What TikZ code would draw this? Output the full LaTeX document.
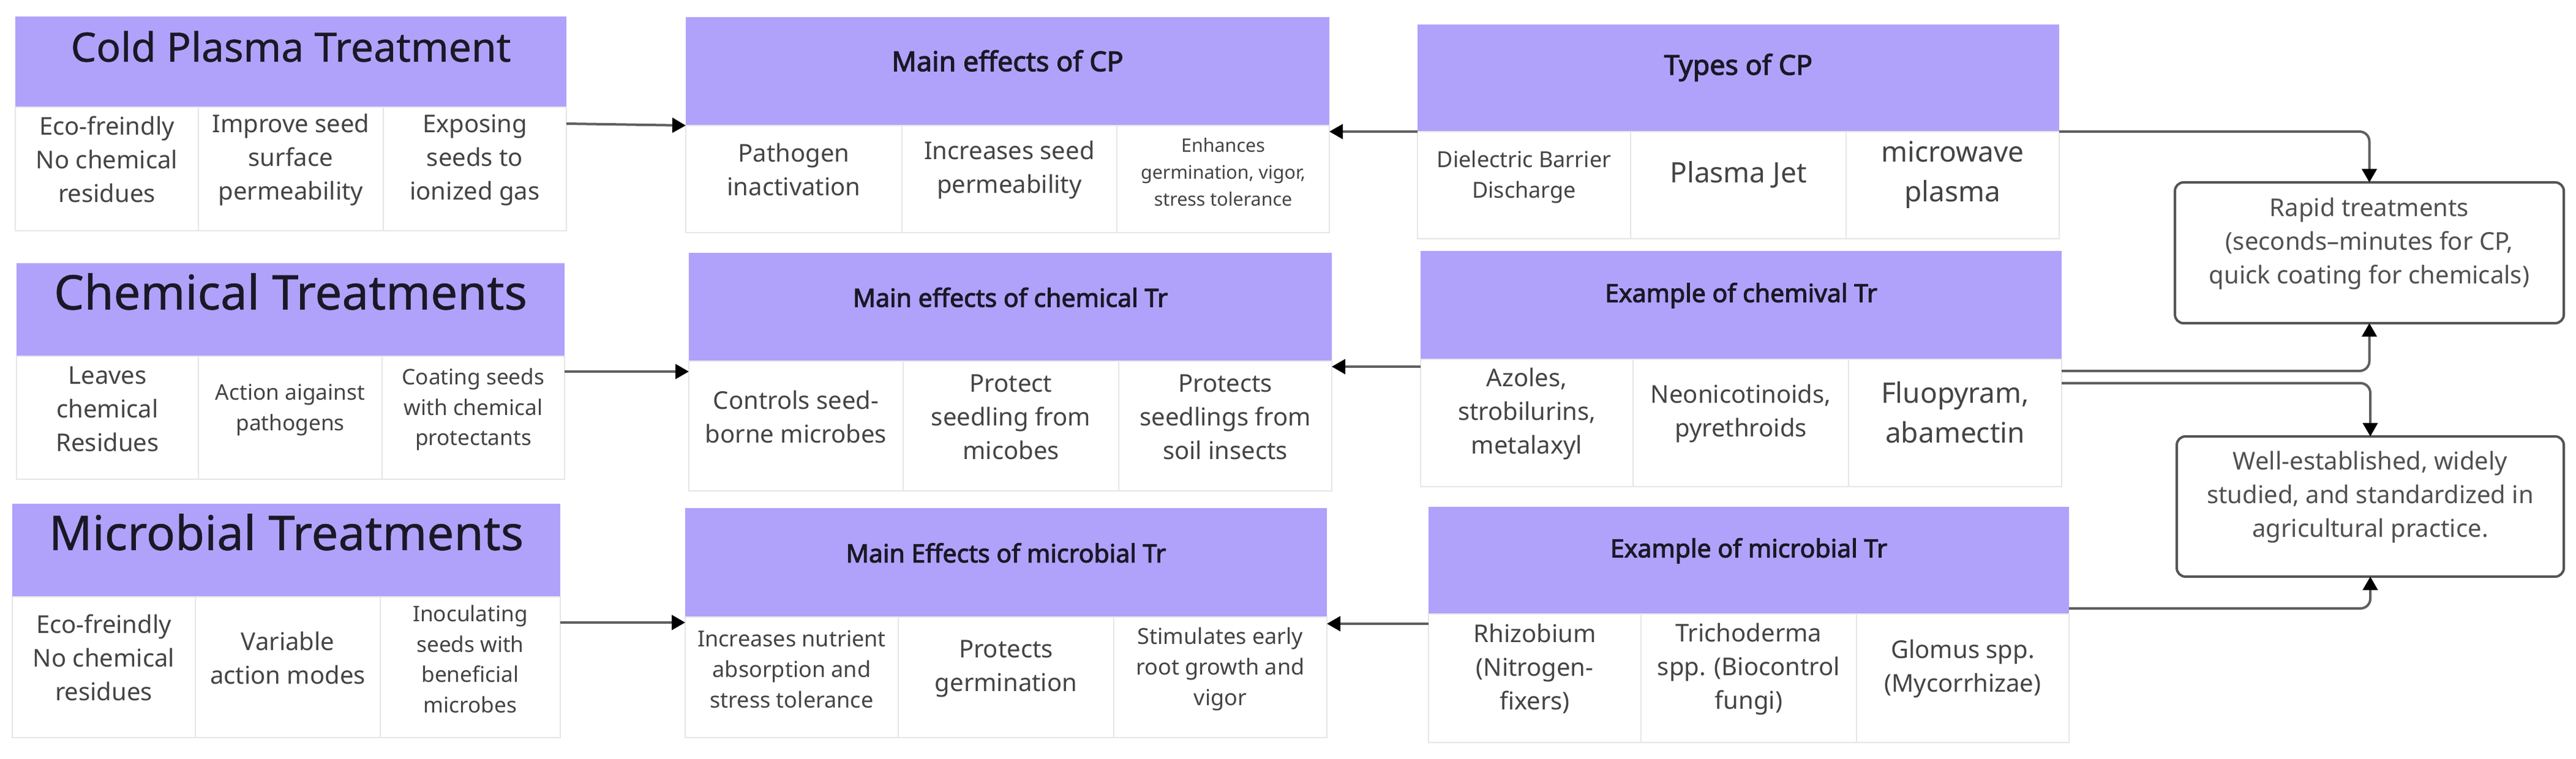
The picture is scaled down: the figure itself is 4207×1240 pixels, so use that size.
\documentclass[tikz,border=0pt]{standalone}
\usepackage{fontspec}
\setmainfont{Noto Sans}
\newfontfamily\tbf{Noto Sans}[FakeBold=2.6]
\newfontfamily\tmed{Noto Sans}[FakeBold=0.6]
\usetikzlibrary{fit,arrows.meta}
\definecolor{hdrc}{RGB}{176,162,251}
\definecolor{titlec}{RGB}{26,24,38}
\definecolor{cellc}{RGB}{68,68,68}
\definecolor{celll}{RGB}{230,230,234}
\definecolor{linec}{RGB}{95,95,95}
\definecolor{boxc}{RGB}{85,85,85}
\definecolor{boxt}{RGB}{80,80,80}
\newcommand\fsz[2]{\fontsize{#1}{#2}\selectfont}
\begin{document}
\begin{tikzpicture}[x=0.25pt,y=-0.25pt,
  hdr/.style={fill=hdrc,draw=none,inner sep=0pt,outer sep=0pt,align=center,text=titlec},
  cell/.style={fill=white,draw=celll,line width=0.5pt,inner sep=0pt,outer sep=0pt,align=center,text=cellc},
  bigt/.style={font=\tmed\fsz{19.5}{24}},
  midt/.style={font=\tmed\fsz{16.5}{20}},
  bt/.style={font=\tbf\fsz{10.25}{14}},
  btl/.style={font=\tbf\fsz{11.2}{15}},
  fa/.style={font=\fsz{10}{13.75}},
  fb/.style={font=\fsz{8.8}{12.4}},
  fc/.style={font=\fsz{9}{12.5}},
  fd/.style={font=\fsz{7.6}{11}},
  fe/.style={font=\fsz{11.5}{16.2}},
  arr/.style={draw=linec,line width=1pt,-{Triangle[length=5.5pt,width=6pt,color=black]}},
  elb/.style={arr,rounded corners=4pt},
  bx/.style={draw=boxc,line width=1pt,rounded corners=3.5pt,fill=white,align=center,text=boxt,font=\fsz{10}{13.75},inner sep=0pt,outer sep=0pt}
]
\useasboundingbox[fill=white] (0,0) rectangle (4207,1240);

% ---------- Row 1 ----------
\node[hdr,midt,fit={(25,27) (925,175)}] (t1h) {Cold Plasma Treatment};
\node[cell,fa,fit={(25,175) (324,377)}] (t1a) {Eco-freindly\\No chemical\\residues};
\node[cell,fa,fit={(324,175) (626,377)}] (t1b) {Improve seed\\surface\\permeability};
\node[cell,fa,fit={(626,175) (925,377)}] (t1c) {Exposing\\seeds to\\ionized gas};

\node[hdr,btl,fit={(1120,28) (2171,205)}] (t2h) {Main effects of CP};
\node[cell,fa,fit={(1120,205) (1473,380)}] (t2a) {Pathogen\\inactivation};
\node[cell,fa,fit={(1473,205) (1824,380)}] (t2b) {Increases seed\\permeability};
\node[cell,fd,fit={(1824,205) (2171,380)}] (t2c) {Enhances\\germination, vigor,\\stress tolerance};

\node[hdr,btl,fit={(2315,40) (3363,215)}] (t3h) {Types of CP};
\node[cell,fc,fit={(2315,215) (2663,390)}] (t3a) {Dielectric Barrier\\Discharge};
\node[cell,fe,fit={(2663,215) (3015,390)}] (t3b) {Plasma Jet};
\node[cell,fe,fit={(3015,215) (3363,390)}] (t3c) {microwave\\plasma};

% ---------- Row 2 ----------
\node[hdr,bigt,fit={(27,430) (922,582)}] (t4h) {Chemical Treatments};
\node[cell,fa,fit={(27,582) (324,783)}] (t4a) {Leaves\\chemical\\Residues};
\node[cell,fb,fit={(324,582) (624,783)}] (t4b) {Action aigainst\\pathogens};
\node[cell,fb,fit={(624,582) (922,783)}] (t4c) {Coating seeds\\with chemical\\protectants};

\node[hdr,bt,fit={(1125,413) (2175,590)}] (t5h) {Main effects of chemical Tr};
\node[cell,fa,fit={(1125,590) (1475,802)}] (t5a) {Controls seed-\\borne microbes};
\node[cell,fa,fit={(1475,590) (1827,802)}] (t5b) {Protect\\seedling from\\micobes};
\node[cell,fa,fit={(1827,590) (2175,802)}] (t5c) {Protects\\seedlings from\\soil insects};

\node[hdr,bt,fit={(2320,410) (3367,587)}] (t6h) {Example of chemival Tr};
\node[cell,fa,fit={(2320,587) (2667,795)}] (t6a) {Azoles,\\strobilurins,\\metalaxyl};
\node[cell,fa,fit={(2667,587) (3019,795)}] (t6b) {Neonicotinoids,\\pyrethroids};
\node[cell,fe,fit={(3019,587) (3367,795)}] (t6c) {Fluopyram,\\abamectin};

% ---------- Row 3 ----------
\node[hdr,bigt,fit={(20,823) (915,975)}] (t7h) {Microbial Treatments};
\node[cell,fa,fit={(20,975) (319,1205)}] (t7a) {Eco-freindly\\No chemical\\residues};
\node[cell,fa,fit={(319,975) (621,1205)}] (t7b) {Variable\\action modes};
\node[cell,fb,fit={(621,975) (915,1205)}] (t7c) {Inoculating\\seeds with\\beneficial\\microbes};

\node[hdr,bt,fit={(1119,830) (2167,1008)}] (t8h) {Main Effects of microbial Tr};
\node[cell,fc,fit={(1119,1008) (1467,1205)}] (t8a) {Increases nutrient\\absorption and\\stress tolerance};
\node[cell,fa,fit={(1467,1008) (1819,1205)}] (t8b) {Protects\\germination};
\node[cell,fc,fit={(1819,1008) (2167,1205)}] (t8c) {Stimulates early\\root growth and\\vigor};

\node[hdr,bt,fit={(2333,828) (3379,1003)}] (t9h) {Example of microbial Tr};
\node[cell,fa,fit={(2333,1003) (2680,1213)}] (t9a) {Rhizobium\\(Nitrogen-\\fixers)};
\node[cell,fa,fit={(2680,1003) (3032,1213)}] (t9b) {Trichoderma\\spp. (Biocontrol\\fungi)};
\node[cell,fa,fit={(3032,1003) (3379,1213)}] (t9c) {Glomus spp.\\(Mycorrhizae)};

% ---------- Right boxes ----------
\node[bx,fit={(3552,298) (4187,528)}] (rapid) {Rapid treatments\\(seconds–minutes for CP,\\quick coating for chemicals)};
\node[bx,fit={(3555,713) (4187,942)}] (well) {Well-established, widely\\studied, and standardized in\\agricultural practice.};

% ---------- Connector anchors ----------
\path (t1h.south east) ++(0,27) coordinate (a1s);
\path (t2h.south west) ++(0,0) coordinate (a1e);
\path (t4h.south east) ++(0,25) coordinate (a3s);
\path (t6h.south west) ++(0,12) coordinate (a4s);
\path (t7h.south east) ++(0,42) coordinate (a5s);
\path (t9h.south west) ++(0,16) coordinate (a6s);
\path (t6h.south east) ++(0,19) coordinate (b2s);
\path (t6h.south east) ++(0,39) coordinate (b3s);
\path (t9h.south east) ++(0,-9) coordinate (b4s);

% ---------- Connectors ----------
\draw[arr] (a1s) -- (a1e);
\draw[arr] (t3h.south west) -- (t2h.east |- t3h.south west);
\draw[arr] (a3s) -- (t5h.west |- a3s);
\draw[arr] (a4s) -- (t5h.east |- a4s);
\draw[arr] (a5s) -- (t8h.west |- a5s);
\draw[arr] (a6s) -- (t8h.east |- a6s);
\draw[elb] (t3h.south east) -| (rapid.north);
\draw[elb] (b2s) -| (rapid.south);
\draw[elb] (b3s) -| (well.north);
\draw[elb] (b4s) -| (well.south);
\end{tikzpicture}
\end{document}
